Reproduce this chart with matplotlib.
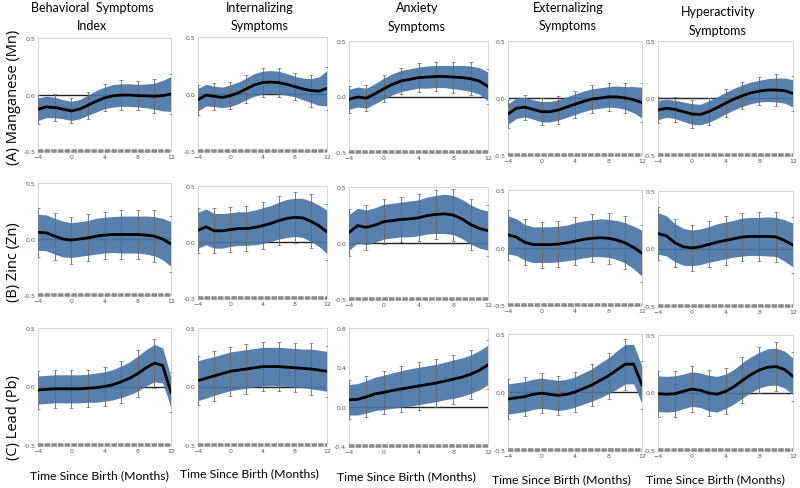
import matplotlib
matplotlib.use("Agg")
import matplotlib.pyplot as plt
import numpy as np

# time grid (months since birth) for the smooth estimate and the error bars
months = [-4, -3, -2, -1, 0, 1, 2, 3, 4, 5, 6, 7, 8, 9, 10, 11, 12]
err_months = [-4, -2, 0, 2, 4, 6, 8, 10, 12]

outcomes = ["Behavioral  Symptoms\nIndex", "Internalizing\nSymptoms", "Anxiety\nSymptoms",
            "Externalizing\nSymptoms", "Hyperactivity\nSymptoms"]
metals = ["(A) Manganese (Mn)", "(B) Zinc (Zn)", "(C) Lead (Pb)"]
xlabel = "Time Since Birth (Months)"

# ---- Manganese ----
mn_mean = [
    [-0.13, -0.11, -0.115, -0.13, -0.145, -0.13, -0.095, -0.06, -0.03, -0.012, -0.005, -0.005, -0.01, -0.012, -0.015, -0.01, 0.005],
    [-0.05, -0.01, -0.02, -0.03, -0.015, 0.01, 0.045, 0.08, 0.1, 0.105, 0.1, 0.085, 0.065, 0.045, 0.03, 0.025, 0.05],
    [-0.025, -0.005, -0.015, 0.025, 0.07, 0.11, 0.14, 0.155, 0.17, 0.175, 0.18, 0.18, 0.175, 0.17, 0.16, 0.14, 0.09],
    [-0.14, -0.09, -0.08, -0.1, -0.12, -0.12, -0.105, -0.08, -0.055, -0.03, -0.01, 0.0, 0.01, 0.01, 0.0, -0.015, -0.04],
    [-0.105, -0.09, -0.1, -0.12, -0.14, -0.145, -0.12, -0.085, -0.045, -0.01, 0.02, 0.045, 0.06, 0.07, 0.07, 0.065, 0.04],
]
mn_band = [
    [0.1, 0.095, 0.09, 0.085, 0.085, 0.085, 0.09, 0.095, 0.095, 0.1, 0.1, 0.1, 0.1, 0.105, 0.115, 0.135, 0.155],
    [0.1, 0.095, 0.09, 0.09, 0.095, 0.095, 0.095, 0.1, 0.1, 0.1, 0.1, 0.095, 0.09, 0.095, 0.105, 0.125, 0.155],
    [0.09, 0.09, 0.09, 0.09, 0.095, 0.095, 0.095, 0.095, 0.095, 0.1, 0.1, 0.1, 0.105, 0.11, 0.115, 0.12, 0.13],
    [0.09, 0.09, 0.085, 0.085, 0.09, 0.09, 0.09, 0.09, 0.09, 0.09, 0.09, 0.09, 0.09, 0.095, 0.1, 0.115, 0.135],
    [0.085, 0.08, 0.08, 0.085, 0.09, 0.09, 0.095, 0.095, 0.095, 0.095, 0.095, 0.095, 0.095, 0.1, 0.105, 0.11, 0.12],
]
mn_err = [
    [0.13, 0.12, 0.11, 0.12, 0.12, 0.13, 0.13, 0.15, 0.18],
    [0.13, 0.12, 0.12, 0.12, 0.13, 0.13, 0.12, 0.14, 0.19],
    [0.12, 0.12, 0.12, 0.12, 0.13, 0.13, 0.14, 0.15, 0.16],
    [0.12, 0.11, 0.12, 0.12, 0.12, 0.12, 0.12, 0.13, 0.17],
    [0.11, 0.11, 0.12, 0.12, 0.12, 0.12, 0.12, 0.14, 0.15],
]

# ---- Zinc ----
zn_mean = [
    [0.06, 0.055, 0.025, 0.0, -0.01, 0.0, 0.01, 0.025, 0.035, 0.04, 0.04, 0.04, 0.04, 0.035, 0.025, 0.0, -0.045],
    [0.105, 0.135, 0.1, 0.1, 0.11, 0.12, 0.12, 0.13, 0.145, 0.165, 0.19, 0.21, 0.22, 0.215, 0.185, 0.145, 0.09],
    [0.095, 0.155, 0.14, 0.16, 0.19, 0.2, 0.21, 0.215, 0.225, 0.245, 0.255, 0.26, 0.25, 0.215, 0.165, 0.13, 0.11],
    [0.11, 0.09, 0.045, 0.025, 0.025, 0.025, 0.03, 0.04, 0.055, 0.07, 0.08, 0.085, 0.08, 0.065, 0.04, 0.0, -0.05],
    [0.13, 0.11, 0.05, 0.015, 0.005, 0.015, 0.035, 0.055, 0.07, 0.085, 0.1, 0.105, 0.105, 0.105, 0.1, 0.07, 0.03],
]
zn_band = [
    [0.16, 0.16, 0.16, 0.16, 0.155, 0.155, 0.155, 0.16, 0.16, 0.16, 0.165, 0.165, 0.165, 0.17, 0.175, 0.185, 0.2],
    [0.16, 0.16, 0.155, 0.155, 0.15, 0.15, 0.15, 0.155, 0.16, 0.16, 0.165, 0.17, 0.17, 0.175, 0.18, 0.185, 0.195],
    [0.16, 0.155, 0.155, 0.155, 0.155, 0.155, 0.155, 0.16, 0.16, 0.165, 0.17, 0.175, 0.175, 0.175, 0.175, 0.175, 0.175],
    [0.165, 0.16, 0.155, 0.155, 0.155, 0.155, 0.155, 0.155, 0.16, 0.16, 0.16, 0.165, 0.165, 0.17, 0.175, 0.185, 0.2],
    [0.18, 0.175, 0.165, 0.16, 0.155, 0.155, 0.155, 0.16, 0.16, 0.16, 0.165, 0.165, 0.165, 0.17, 0.17, 0.18, 0.19],
]
zn_err = [
    [0.22, 0.21, 0.21, 0.21, 0.21, 0.22, 0.22, 0.23, 0.25],
    [0.2, 0.2, 0.2, 0.2, 0.21, 0.22, 0.23, 0.24, 0.25],
    [0.21, 0.2, 0.2, 0.2, 0.21, 0.22, 0.23, 0.23, 0.23],
    [0.22, 0.2, 0.2, 0.2, 0.21, 0.21, 0.22, 0.23, 0.25],
    [0.23, 0.21, 0.2, 0.2, 0.21, 0.21, 0.21, 0.22, 0.24],
]

# ---- Lead ----
pb_mean = [
    [-0.03, -0.025, -0.02, -0.02, -0.02, -0.02, -0.015, -0.01, 0.0, 0.015, 0.04, 0.07, 0.11, 0.16, 0.2, 0.18, -0.05],
    [0.05, 0.07, 0.09, 0.11, 0.13, 0.14, 0.15, 0.16, 0.17, 0.17, 0.17, 0.165, 0.16, 0.155, 0.15, 0.14, 0.13],
    [0.07, 0.075, 0.1, 0.13, 0.145, 0.165, 0.18, 0.195, 0.21, 0.225, 0.24, 0.26, 0.28, 0.3, 0.33, 0.37, 0.425],
    [-0.06, -0.05, -0.04, -0.02, -0.01, -0.02, -0.03, -0.02, 0.0, 0.03, 0.06, 0.1, 0.14, 0.19, 0.24, 0.24, 0.06],
    [-0.01, -0.015, -0.01, 0.01, 0.03, 0.02, -0.005, -0.015, 0.01, 0.05, 0.105, 0.155, 0.195, 0.22, 0.225, 0.2, 0.14],
]
pb_band = [
    [0.12, 0.12, 0.12, 0.12, 0.12, 0.12, 0.12, 0.125, 0.125, 0.13, 0.135, 0.14, 0.15, 0.155, 0.16, 0.15, 0.13],
    [0.17, 0.17, 0.165, 0.165, 0.165, 0.165, 0.165, 0.165, 0.165, 0.165, 0.165, 0.165, 0.165, 0.165, 0.17, 0.17, 0.17],
    [0.155, 0.16, 0.165, 0.17, 0.175, 0.18, 0.185, 0.19, 0.19, 0.19, 0.19, 0.19, 0.195, 0.195, 0.195, 0.2, 0.2],
    [0.13, 0.13, 0.13, 0.13, 0.13, 0.13, 0.13, 0.13, 0.13, 0.135, 0.14, 0.15, 0.155, 0.165, 0.17, 0.17, 0.16],
    [0.155, 0.155, 0.155, 0.15, 0.15, 0.15, 0.155, 0.155, 0.15, 0.15, 0.155, 0.155, 0.155, 0.16, 0.16, 0.16, 0.16],
]
pb_err = [
    [0.16, 0.16, 0.16, 0.16, 0.17, 0.18, 0.2, 0.21, 0.17],
    [0.21, 0.21, 0.21, 0.21, 0.21, 0.21, 0.21, 0.22, 0.22],
    [0.2, 0.21, 0.22, 0.23, 0.24, 0.24, 0.25, 0.25, 0.25],
    [0.17, 0.17, 0.17, 0.17, 0.17, 0.18, 0.2, 0.22, 0.21],
    [0.2, 0.2, 0.2, 0.2, 0.2, 0.2, 0.2, 0.21, 0.21],
]

means = [mn_mean, zn_mean, pb_mean]
bands = [mn_band, zn_band, pb_band]
errs = [mn_err, zn_err, pb_err]

# panel boxes in pixels (left, right) per column and (top, bottom) per row/col
W, H = 800, 489
col_x = [(38, 171), (198, 327), (349, 488), (508, 642), (658, 793)]
row_y = [
    [(39, 152), (38, 152), (42, 153), (42, 156), (42, 156)],
    [(184, 296), (187, 299), (188, 300), (191, 306), (192, 307)],
    [(329, 446), (329, 446), (329, 447), (335, 451), (336, 451)],
]

band_col = "#4a76a6"
fig = plt.figure(figsize=(8, 4.89), dpi=100)

for r in range(3):
    for c in range(5):
        x0, x1 = col_x[c]
        t, b = row_y[r][c]
        ax = fig.add_axes([x0 / W, 1 - b / H, (x1 - x0) / W, (b - t) / H])
        m = np.array(means[r][c])
        hw = np.array(bands[r][c])
        if r == 2 and c == 2:
            ylo, yhi, yt = -0.4, 0.8, [-0.4, 0.0, 0.4, 0.8]
        else:
            ylo, yhi, yt = -0.5, 0.5, [-0.5, 0.0, 0.5]
        ax.axhline(0, color="#222222", lw=1.0, zorder=1)
        ax.fill_between(months, m - hw, m + hw, color=band_col, alpha=0.93, lw=0, zorder=2)
        em = np.array([m[months.index(v)] for v in err_months])
        ax.errorbar(err_months, em, yerr=errs[r][c], fmt="none", ecolor="#666666",
                    elinewidth=0.6, capsize=1.3, capthick=0.5, zorder=3)
        ax.plot(months, m, color="black", lw=2, zorder=4)
        # rug of observation times along the bottom
        ax.axhline(ylo, color="#8c8c8c", lw=2.6, dashes=(1.5, 0.35), zorder=5, clip_on=False)
        ax.set_xlim(-4, 12)
        ax.set_ylim(ylo, yhi)
        ax.set_xticks([-4, 0, 4, 8, 12])
        ax.set_yticks(yt)
        ax.yaxis.set_major_formatter(matplotlib.ticker.FormatStrFormatter("%.1f"))
        ax.tick_params(labelsize=4.5, labelcolor="#555555", length=0, pad=2)
        for s in ax.spines.values():
            s.set_color("#d0d0d0")
            s.set_linewidth(0.6)

# column titles, two lines each
title_x = [92, 260, 417, 568, 718]
title_y1 = [8, 8, 8, 8, 12]
title_y2 = [26, 26, 27, 26, 31]
for c in range(5):
    top_line, bottom_line = outcomes[c].split("\n")
    fig.text(title_x[c] / W, 1 - title_y1[c] / H, top_line, ha="center", va="center",
             fontsize=9, family="Lato")
    fig.text(title_x[c] / W, 1 - title_y2[c] / H, bottom_line, ha="center", va="center",
             fontsize=9, family="Lato")

# row labels
row_lab_y = [97, 262, 418]
for r in range(3):
    fig.text(14 / W, 1 - row_lab_y[r] / H, metals[r], rotation=90, ha="center", va="center",
             fontsize=10.5, family="Open Sans")

# x labels under bottom row
xlab_x = [99, 249, 406, 561, 715]
xlab_y = [476, 474, 477, 480, 480]
for c in range(5):
    fig.text(xlab_x[c] / W, 1 - xlab_y[c] / H, xlabel, ha="center", va="center",
             fontsize=8.8, family="Lato")

fig.savefig("out.png", dpi=100)
